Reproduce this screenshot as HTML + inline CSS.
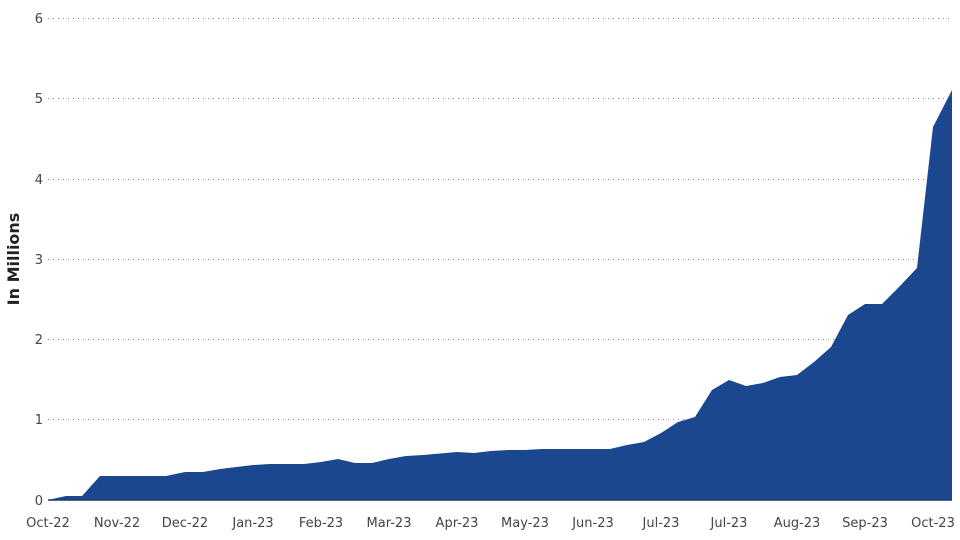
<!DOCTYPE html>
<html><head><meta charset="utf-8"><style>
html,body{margin:0;padding:0;background:#fff;width:960px;height:540px;overflow:hidden}
text{font-family:"DejaVu Sans","Liberation Sans",sans-serif;fill:#444;font-size:13px}
</style></head><body>
<svg width="960" height="540" xmlns="http://www.w3.org/2000/svg">
<g stroke="#888" stroke-width="1" stroke-dasharray="1,4">
<line x1="48" y1="18.5" x2="952" y2="18.5"/>
<line x1="48" y1="98.5" x2="952" y2="98.5"/>
<line x1="48" y1="179.5" x2="952" y2="179.5"/>
<line x1="48" y1="259.5" x2="952" y2="259.5"/>
<line x1="48" y1="339.5" x2="952" y2="339.5"/>
<line x1="48" y1="419.5" x2="952" y2="419.5"/>
</g>
<g text-anchor="end">
<text x="43" y="23">6</text><text x="43" y="103">5</text><text x="43" y="184">4</text>
<text x="43" y="264">3</text><text x="43" y="344">2</text><text x="43" y="424">1</text><text x="43" y="505">0</text>
</g>
<polygon fill="#1a478d" points="48,500 66,496 82,496 100,476 166,476 185,472 203,472 220,469 253,465 270,464 304,464 321,462 338,459 355,463 372,463 389,459 406,456 423,455 457,452 474,453 491,451 508,450 525,450 542,449 610,449 627,445 644,442 661,433 678,422 695,417 712,390 729,380 746,386 763,383 780,377 797,375 814,362 831,347 848,315 865,304 882,304 899,287 917,268 933,127 952,90 952,500"/>
<line x1="48" y1="500" x2="952" y2="500" stroke="#1a3a70" stroke-width="1.5"/>
<g text-anchor="middle">
<text x="48" y="527">Oct-22</text><text x="117" y="527">Nov-22</text><text x="185" y="527">Dec-22</text>
<text x="253" y="527">Jan-23</text><text x="321" y="527">Feb-23</text><text x="389" y="527">Mar-23</text>
<text x="457" y="527">Apr-23</text><text x="525" y="527">May-23</text><text x="593" y="527">Jun-23</text>
<text x="661" y="527">Jul-23</text><text x="729" y="527">Jul-23</text><text x="797" y="527">Aug-23</text>
<text x="865" y="527">Sep-23</text><text x="933" y="527">Oct-23</text>
</g>
<text x="19" y="259" text-anchor="middle" transform="rotate(-90 19 259)" style="font-weight:bold;font-size:16px;fill:#222">In Millions</text>
</svg>
</body></html>
